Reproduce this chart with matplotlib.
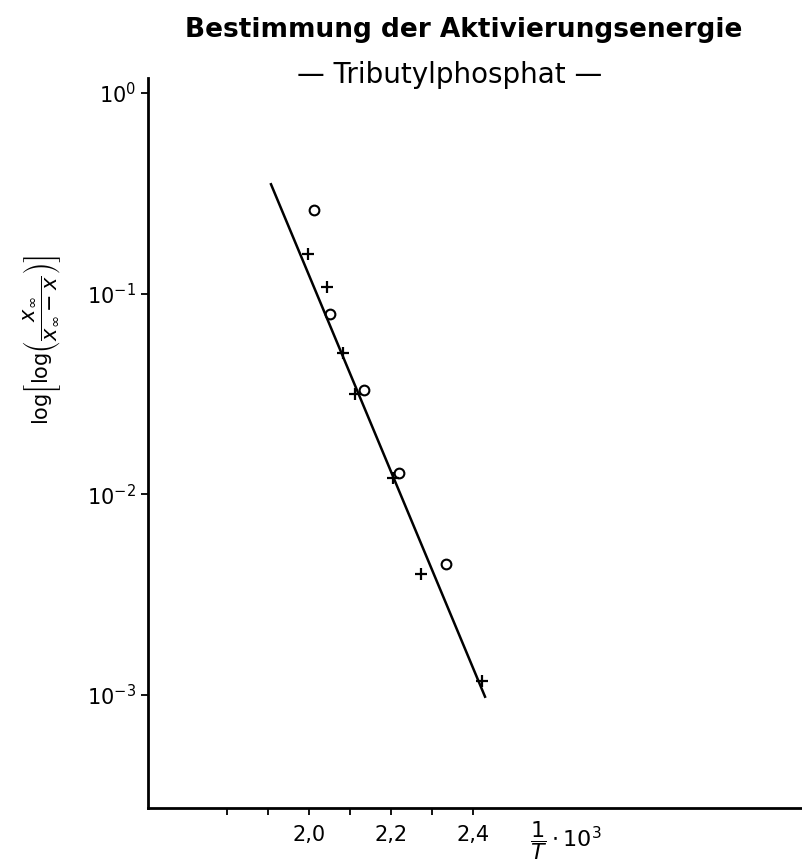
import matplotlib
matplotlib.use("Agg")
import matplotlib.pyplot as plt
from matplotlib.ticker import FixedLocator, FixedFormatter, NullLocator

# circles (o) and crosses (+), x = 1/T * 10^3
circ_x = [2.013, 2.051, 2.134, 2.218, 2.334]
circ_y = [0.260, 0.0791, 0.0330, 0.01278, 0.0045]
plus_x = [1.997, 2.044, 2.083, 2.112, 2.204, 2.273, 2.421]
plus_y = [0.158, 0.108, 0.0505, 0.0316, 0.01206, 0.0040, 0.00117]
fit_x = [1.907, 2.429]
fit_y = [0.351, 0.000977]

xticks = [1.8, 1.9, 2.0, 2.1, 2.2, 2.3, 2.4]
xticklabels = ["", "", "2,0", "", "2,2", "", "2,4"]
yticks = [1e-3, 1e-2, 1e-1, 1e0]
yticklabels = [r"$10^{-3}$", r"$10^{-2}$", r"$10^{-1}$", r"$10^{0}$"]

fig = plt.figure(figsize=(8.02, 8.65), dpi=100)
ax = fig.add_axes([0.1845, 0.0659, 0.8155, 0.8439])

ax.plot(fit_x, fit_y, color="black", lw=1.8)
ax.plot(circ_x, circ_y, "o", ms=7, mfc="none", mec="black", mew=1.5)
ax.plot(plus_x, plus_y, "+", ms=8, color="black", mew=1.6)

ax.set_yscale("log")
ax.set_xlim(1.607, 3.202)
ax.set_ylim(10 ** -3.565, 10 ** 0.075)

ax.xaxis.set_major_locator(FixedLocator(xticks))
ax.xaxis.set_major_formatter(FixedFormatter(xticklabels))
ax.yaxis.set_major_locator(FixedLocator(yticks))
ax.yaxis.set_major_formatter(FixedFormatter(yticklabels))
ax.yaxis.set_minor_locator(NullLocator())
ax.tick_params(axis="both", direction="out", length=5, width=1.3, labelsize=15)
ax.tick_params(axis="x", pad=7)

for s in ("top", "right"):
    ax.spines[s].set_visible(False)
for s in ("left", "bottom"):
    ax.spines[s].set_linewidth(2)

ax.set_ylabel(r"$\mathrm{log}\left[\mathrm{log}\left(\dfrac{x_\infty}{x_\infty - x}\right)\right]$",
              fontsize=15)
ax.yaxis.set_label_coords(-0.13, 0.641)

fig.text(0.705, 0.028, r"$\dfrac{1}{T}\cdot 10^3$", fontsize=16, ha="center", va="center")
fig.text(0.578, 0.965, "Bestimmung der Aktivierungsenergie", fontsize=19,
         fontweight="bold", ha="center", va="center")
fig.text(0.561, 0.913, "— Tributylphosphat —", fontsize=20,
         ha="center", va="center")

fig.savefig("out.png", dpi=100)
